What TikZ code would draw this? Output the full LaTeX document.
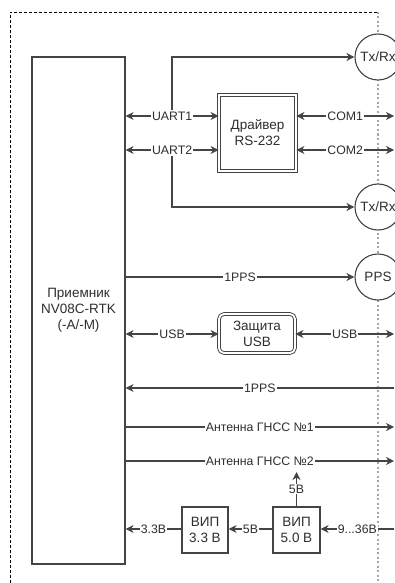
\documentclass[tikz,border=0pt]{standalone}
\usepackage{fontspec}
\setmainfont{Liberation Sans}
\usetikzlibrary{arrows.meta}
\definecolor{ln}{HTML}{444444}
\definecolor{tx}{HTML}{2E2E2E}
\tikzset{
  boxfont/.style={font=\fontsize{13.5}{16}\selectfont, text=tx, align=center},
  lbl/.style={font=\fontsize{12.3}{14}\selectfont, text=tx, fill=white, inner sep=1pt},
  blk/.style={draw=ln, line width=1.2pt, fill=white, boxfont, inner sep=0pt},
  dbl/.style={draw=ln, line width=0.9pt, double=white, double distance=1.8pt, fill=white, boxfont, inner sep=0pt},
  circ/.style={circle, draw=ln, line width=1.1pt, fill=white, minimum size=46pt, inner sep=0pt, boxfont},
  tip/.tip={Stealth[length=8pt,width=8pt,inset=2.5pt]},
  arr/.style={draw=ln, line width=1.2pt, -tip},
  bi/.style={draw=ln, line width=1.2pt, tip-tip},
  pl/.style={draw=ln, line width=1.2pt}
}
\begin{document}
\begin{tikzpicture}[x=1pt,y=-1pt]
\useasboundingbox (0,0) rectangle (395,583);
% frame
\draw[black, line width=0.9pt, dash pattern=on 3pt off 2pt] (10,583) -- (10,12) -- (378,12);
\draw[gray!70, line width=1.3pt, dash pattern=on 2pt off 2.5pt] (378,12) -- (378,583);
% blocks
\node[blk, minimum width=93pt, minimum height=507pt] (rx) at (78.5,310.5) {Приемник\\NV08C-RTK\\(-A/-M)};
\node[dbl, minimum width=77pt, minimum height=76pt] (drv) at (257.5,133) {Драйвер\\RS-232};
\node[dbl, rounded corners=5pt, minimum width=76pt, minimum height=39pt] (usbp) at (257,333.5) {Защита\\USB};
\node[blk, minimum width=47pt, minimum height=46pt] (vip5) at (296.5,530) {ВИП\\5.0 В};
\node[blk, minimum width=46pt, minimum height=46pt] (vip33) at (205,530) {ВИП\\3.3 В};
\node[circ] (tx1) at (378,57) {Tx/Rx};
\node[circ] (tx2) at (378,207) {Tx/Rx};
\node[circ] (pps) at (378,277) {PPS};
% free ends
\coordinate (e1) at (394,116);
\coordinate (e2) at (394,150);
\coordinate (e3) at (394,334);
\coordinate (e4) at (394,388);
\coordinate (e5) at (394,427);
\coordinate (e6) at (394,461);
\coordinate (e7) at (394,529);
\coordinate (up5) at (296.5,472);
% connectors
\draw[bi] (rx.east |- 0,116) -- node[lbl] (u1) {UART1} (drv.west |- 0,116);
\draw[bi] (rx.east |- 0,150) -- node[lbl] (u2) {UART2} (drv.west |- 0,150);
\draw[arr] (u1.north) |- (tx1.west);
\draw[arr] (u2.south) |- (tx2.west);
\draw[bi] (drv.east |- e1) -- node[lbl] {COM1} (e1);
\draw[bi] (drv.east |- e2) -- node[lbl] {COM2} (e2);
\draw[arr] (rx.east |- pps.west) -- node[lbl] {1PPS} (pps.west);
\draw[bi] (rx.east |- e3) -- node[lbl] {USB} (usbp.west |- e3);
\draw[bi] (usbp.east |- e3) -- node[lbl] {USB} (e3);
\draw[arr] (e4) -- node[lbl] {1PPS} (rx.east |- e4);
\draw[arr] (rx.east |- e5) -- node[lbl] {Антенна ГНСС №1} (e5);
\draw[arr] (rx.east |- e6) -- node[lbl] {Антенна ГНСС №2} (e6);
\draw[arr] (vip5.north) -- node[lbl] {5В} (up5);
\draw[arr] (e7) -- node[lbl] {9...36В} (vip5.east |- e7);
\draw[arr] (vip5.west |- e7) -- node[lbl] {5В} (vip33.east |- e7);
\draw[arr] (vip33.west |- e7) -- node[lbl] {3.3В} (rx.east |- e7);
\end{tikzpicture}
\end{document}
